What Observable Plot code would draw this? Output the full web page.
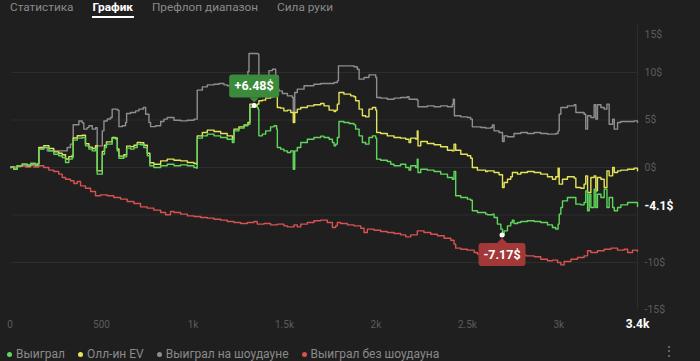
<!DOCTYPE html>
<html><head><meta charset="utf-8">
<script src="https://cdn.jsdelivr.net/npm/d3@7"></script>
<script src="https://cdn.jsdelivr.net/npm/@observablehq/plot@0.6"></script>
<style>
html,body{margin:0;padding:0;background:#1f1f1f;width:700px;height:361px;overflow:hidden;font-family:Roboto,"Noto Sans",sans-serif;}
#tabs{position:absolute;left:10px;top:0;height:22px;display:flex;gap:19px;}
.tab{position:relative;font-size:11.8px;line-height:14px;color:#8a8a8a;white-space:nowrap}
.tab.active{color:#fff;font-weight:700}
.tab.active:after{content:"";position:absolute;left:-1px;right:-1px;top:16px;height:1.5px;background:#fff}
#chart{position:absolute;left:0;top:22px}
#legend{position:absolute;left:7px;top:346px;display:flex;font-size:12px;line-height:16px;color:#8a8a8a;}
.li{display:flex;align-items:center;margin-right:13px;white-space:nowrap}
.dot{width:5px;height:5px;border-radius:50%;margin-right:4px}
#more{position:absolute;left:662px;top:343px;color:#777;font-size:14px;}
</style></head>
<body>
<div id="tabs"></div>
<div id="chart"></div>
<div id="legend"></div>
<div id="more">⋮</div>
<script>
const tabs = ["Статистика", "График", "Префлоп диапазон", "Сила руки"];
const activeTab = "График";
const seriesNames = ["Выиграл", "Олл-ин EV", "Выиграл на шоудауне", "Выиграл без шоудауна"];
const seriesColors = ["#5fd65c", "#e4e45a", "#8e8e8e", "#d85252"];

const xTickValues = [0, 500, 1000, 1500, 2000, 2500, 3000];
const xTickLabels = ["0", "500", "1k", "1.5k", "2k", "2.5k", "3k"];
const totalHands = 3441;
const totalLabel = "3.4k";
const yTickValues = [10, 5, 0, -10, -15];
const yTopTick = 15;
const gridValues = [10, 5, 0, -5, -10];
const peakLabel = "+6.48$";
const troughLabel = "-7.17$";
const lastLabel = "-4.1$";

// [hands, $]
const won = [[15,0],[17,0.07],[31,-0.18],[50,0.18],[77,0.35],[104,0.18],[123,0.42],[150,0.18],[163,0.35],[168,1.93],[195,2.1],[223,1.75],[250,1.4],[277,1.23],[296,1.05],[314,0.53],[332,0.88],[350,1.05],[356,2.88],[378,3.09],[405,3.16],[423,2.28],[442,1.93],[460,1.75],[478,2.04],[487,-0.7],[505,-0.7],[515,1.4],[527,2.1],[538,2.46],[560,2.46],[569,3.09],[587,3.0],[597,1.75],[606,0.98],[633,1.12],[648,2.04],[670,1.93],[688,2.1],[706,2.46],[724,2.39],[742,2.1],[761,1.23],[775,0.18],[797,0.0],[834,0.18],
[870,0.35],[907,0.18],[943,0.28],[980,0.18],[1016,0],[1030,-0.07],[1034,3.09],[1062,3.33],[1089,3.51],[1126,3.33],[1162,3.16],[1198,2.98],[1226,2.63],[1235,3.86],[1262,4.14],[1290,4.39],[1311,4.56],[1322,6.35],[1336,6.42],[1348,6.48],[1362,6.3],[1368,6.1],[1371,3.33],[1390,3.51],[1408,3.86],[1426,3.86],[1435,4.28],[1454,4.39],[1468,4.04],[1472,2.1],[1490,1.93],[1508,1.75],[1527,1.58],[1545,1.75],[1559,-0.18],[1567,1.75],[1581,2.1],[1600,2.63],[1636,2.98],[1672,3.16],[1709,3.3],
[1727,3.16],[1755,2.98],[1773,2.63],[1782,2.28],[1791,2.46],[1800,3.16],[1809,4.84],[1836,4.74],[1864,4.63],[1891,4.49],[1900,4.04],[1919,3.33],[1937,2.63],[1955,2.46],[1973,3.16],[1992,3.33],[2010,3.09],[2015,0.88],[2037,0.77],[2073,0.63],[2092,0.35],[2110,0.18],[2146,0.35],[2174,0],[2192,-0.28],[2201,0.18],[2228,0],[2237,0.88],[2241,-0.53],[2256,-0.18],[2292,-0.28],[2329,-0.42],[2365,-0.7],[2402,-1.05],[2429,-1.23],[2438,-0.42],[2447,-2.98],[2475,-3.16],[2511,-3.33],[2529,-3.44],[2538,-4.56],[2566,-4.74],[2611,-4.91],
[2621,-4.98],[2648,-4.91],[2657,-5.26],[2675,-5.96],[2694,-6.49],[2703,-7.17],[2712,-6.67],[2730,-6.14],[2748,-5.79],[2757,-5.54],[2766,-5.89],[2785,-5.79],[2803,-5.68],[2839,-5.61],[2876,-5.68],[2912,-5.79],[2949,-6.04],[2976,-6.32],[2994,-6.49],[3007,-5.96],[3013,-4.91],[3022,-4.21],[3031,-3.51],[3058,-3.16],[3095,-3.16],[3104,-3.86],[3131,-3.93],[3149,-3.68],[3158,-2.46],[3168,-4.56],[3177,-2.81],[3186,-4.21],[3204,-2.28],[3213,-4.21],[3222,-2.81],[3241,-3.16],[3259,-2.28],[3274,-4.21],[3286,-3.16],[3305,-4.21],[3314,-4.56],[3332,-4.21],[3350,-3.93],[3387,-3.68],[3423,-3.68],[3441,-4.1]];

const allInEV = [[15,0],[17,0.07],[31,-0.18],[50,0.18],[77,0.35],[104,0.18],[123,0.42],[150,0.25],[163,0.4],[168,2.1],[195,2.3],[223,2.0],[250,1.65],[277,1.5],[296,1.35],[314,0.9],[332,1.15],[350,1.3],[356,3.1],[378,3.35],[405,3.4],[423,2.5],[442,2.15],[460,2.0],[478,2.3],[487,-0.35],[505,-0.35],[515,1.7],[527,2.35],[538,2.7],[560,2.7],[569,3.16],[587,3.1],[597,1.95],[606,1.2],[633,1.35],[648,2.25],[670,2.2],[688,2.35],[706,2.65],[724,2.6],[742,2.35],[761,1.5],[775,0.5],[797,0.35],[834,0.7],
[870,0.88],[907,0.77],[943,0.7],[980,0.53],[1016,0.42],[1030,0.35],[1034,3.33],[1062,3.68],[1089,3.93],[1126,3.79],[1162,3.58],[1198,3.33],[1226,2.98],[1235,4.04],[1262,4.28],[1290,4.49],[1311,4.74],[1322,6.67],[1349,6.49],[1362,6.67],[1371,7.02],[1390,7.09],[1408,7.3],[1435,7.44],[1454,7.54],[1468,7.72],[1472,6.32],[1490,6.25],[1508,5.96],[1527,6.04],[1545,5.79],[1559,4.74],[1567,5.79],[1581,6.14],[1600,6.32],[1636,6.49],[1672,6.6],[1709,6.74],
[1727,6.49],[1755,6.04],[1782,5.89],[1791,6.04],[1800,6.67],[1809,7.89],[1836,7.72],[1873,7.54],[1891,7.44],[1900,7.02],[1919,6.14],[1937,5.44],[1955,5.33],[1973,6.14],[1992,6.32],[2010,6.04],[2015,3.68],[2037,3.58],[2073,3.33],[2110,3.16],[2146,3.09],[2174,2.98],[2192,2.63],[2201,3.09],[2228,3.0],[2237,3.86],[2241,2.28],[2256,2.74],[2292,2.53],[2329,2.39],[2365,2.18],[2402,1.82],[2429,1.75],[2438,2.46],[2447,1.82],[2475,1.4],[2511,1.23],[2529,0.98],[2538,0],[2566,-0.28],[2611,-0.42],
[2621,-0.35],[2657,-0.53],[2684,-0.77],[2703,-2.1],[2712,-1.58],[2730,-1.23],[2748,-0.98],[2757,-0.53],[2785,-0.7],[2803,-0.53],[2839,-0.42],[2876,-0.53],[2912,-0.7],[2949,-0.98],[2976,-1.23],[2994,-0.98],[3007,-0.07],[3013,-1.75],[3031,-1.23],[3058,-0.98],[3095,-1.12],[3104,-2.1],[3131,-2.18],[3149,-1.75],[3158,-0.88],[3168,-2.63],[3186,-1.05],[3204,-0.88],[3213,-2.46],[3222,-1.05],[3241,-1.23],[3259,-2.1],[3274,-0.35],[3286,-0.88],[3305,0],[3314,-0.53],[3332,-0.35],[3350,-0.28],[3387,-0.18],[3423,-0.07],[3441,-0.35]];

const showdown = [[15,0],[17,0.07],[50,0.18],[104,0.3],[150,0.35],[163,0.4],[168,1.95],[195,2.1],[214,1.75],[250,1.75],[296,1.75],[314,1.75],[323,2.1],[341,2.46],[356,4.5],[387,4.9],[405,4.7],[414,4.04],[432,4.2],[442,4.4],[460,4.04],[478,4.2],[487,2.28],[505,2.28],[515,3.86],[524,4.9],[542,5.1],[560,5.26],[569,6.14],[597,6.04],[606,4.3],[624,4.4],[642,4.74],[648,5.68],[670,5.79],[697,5.96],[715,6.14],[739,6.32],[752,5.61],[770,4.74],[779,4.3],[806,4.4],[834,4.84],
[852,5.09],[870,5.26],[907,4.98],[943,4.91],[980,4.98],[1016,5.09],[1030,5.09],[1034,8.14],[1062,8.49],[1089,8.7],[1126,8.77],[1153,8.84],[1180,8.7],[1198,8.6],[1226,8.5],[1235,9.6],[1311,10.1],[1317,12.0],[1366,11.93],[1371,9.3],[1426,10.2],[1445,10.35],[1459,10.35],[1463,8.25],[1481,8.07],[1499,7.79],[1527,7.54],[1554,7.37],[1559,5.79],[1567,7.89],[1581,8.25],[1618,8.6],[1672,8.77],[1709,8.84],
[1727,8.84],[1782,8.95],[1800,9.12],[1806,10.7],[1836,10.7],[1891,10.6],[1909,10.35],[1919,9.3],[1946,9.47],[1973,9.75],[2001,9.75],[2010,9.47],[2015,7.37],[2037,7.3],[2073,7.19],[2110,7.3],[2146,7.37],[2183,7.44],[2192,7.19],[2237,7.09],[2241,6.39],[2292,6.49],[2329,6.39],[2365,6.49],[2402,6.39],[2429,6.67],[2434,7.19],[2440,5.44],[2475,5.33],[2511,5.26],[2529,5.09],[2538,4.28],[2584,4.21],[2611,4.14],
[2639,4.21],[2648,4.49],[2657,3.86],[2684,3.68],[2703,2.74],[2712,3.33],[2730,3.23],[2766,3.58],[2803,3.68],[2839,3.58],[2876,3.68],[2912,3.58],[2949,3.51],[2994,3.58],[3007,3.86],[3013,5.61],[3022,6.32],[3058,6.49],[3095,6.6],[3104,5.79],[3131,5.79],[3149,5.61],[3158,4.04],[3168,5.44],[3186,5.26],[3204,6.6],[3213,5.09],[3222,6.6],[3241,6.32],[3259,6.14],[3274,6.67],[3286,4.56],[3305,5.09],[3314,4.04],[3332,4.74],[3350,4.84],[3387,4.84],[3423,4.91],[3441,4.74]];

const nonShowdown = [[15,0],[17,0.07],[68,0.2],[95,0.05],[123,0.2],[141,0.05],[168,0.18],[195,0],[223,-0.28],[250,-0.42],[277,-0.7],[296,-1.05],[314,-1.23],[341,-1.4],[360,-1.68],[378,-1.47],[396,-1.93],[423,-2.18],[451,-2.53],[478,-2.98],[505,-2.88],[542,-2.98],[578,-3.16],[615,-3.33],[651,-3.58],[688,-3.79],[724,-4.14],[761,-4.28],[797,-4.49],[834,-4.74],[861,-4.98],
[888,-4.63],[907,-4.74],[943,-4.91],[980,-5.09],[1016,-5.16],[1053,-5.26],[1089,-5.33],[1126,-5.44],[1162,-5.54],[1198,-5.68],[1235,-5.79],[1271,-5.89],[1308,-5.79],[1344,-5.68],[1362,-5.96],[1399,-5.89],[1435,-6.04],[1472,-5.96],[1508,-6.14],[1527,-6.25],[1563,-6.04],[1581,-6.25],[1600,-5.96],[1636,-5.79],[1672,-5.61],[1709,-5.54],
[1745,-5.79],[1773,-6.32],[1791,-6.14],[1800,-5.79],[1818,-5.89],[1855,-6.04],[1891,-6.14],[1928,-6.39],[1946,-6.84],[1964,-6.49],[2001,-6.6],[2037,-6.74],[2073,-6.84],[2110,-6.95],[2146,-7.09],[2174,-7.3],[2201,-7.09],[2237,-6.67],[2274,-6.84],[2311,-7.02],[2347,-7.19],[2384,-7.44],[2420,-7.65],[2438,-8.07],[2447,-8.49],[2475,-8.6],[2511,-8.7],[2548,-8.95],[2566,-9.12],
[2620,-9.15],[2700,-9.2],[2830,-9.3],[2876,-9.4],[2912,-9.65],[2949,-9.82],[2976,-9.75],[3004,-10.0],[3022,-10.25],[3040,-9.89],[3077,-9.65],[3113,-9.47],[3149,-9.3],[3168,-8.77],[3186,-8.95],[3222,-8.77],[3259,-8.6],[3296,-8.49],[3332,-8.7],[3368,-8.6],[3387,-8.95],[3414,-8.7],[3441,-8.84]];

// tabs
const tabsEl = d3.select("#tabs");
tabs.forEach(t => tabsEl.append("div").attr("class", "tab" + (t === activeTab ? " active" : "")).text(t));

// legend
const leg = d3.select("#legend");
seriesNames.forEach((n, i) => {
  const it = leg.append("div").attr("class", "li");
  it.append("div").attr("class", "dot").style("background", seriesColors[i]);
  it.append("span").text(n);
});

const peak = won.reduce((a, b) => b[1] > a[1] ? b : a);
const trough = won.reduce((a, b) => b[1] < a[1] ? b : a);
const last = won[won.length - 1];

const lineOpts = (c) => ({x: d => d[0], y: d => d[1], stroke: c, strokeWidth: 1.4, curve: "step-after"});

const chart = Plot.plot({
  width: 700, height: 318,
  marginLeft: 7.6, marginRight: 63, marginTop: 2.5, marginBottom: 30.5,
  style: {background: "transparent", fontFamily: "Roboto, 'Noto Sans', sans-serif", overflow: "visible"},
  x: {domain: [0, totalHands], axis: null},
  y: {domain: [-15, 15], axis: null},
  marks: [
    Plot.ruleY(gridValues, {stroke: "#2d2d2d", strokeWidth: 1, insetLeft: 4}),
    Plot.ruleX([totalHands], {stroke: "#2d2d2d", strokeWidth: 1}),
    Plot.line(showdown, lineOpts(seriesColors[2])),
    Plot.line(nonShowdown, lineOpts(seriesColors[3])),
    Plot.line(allInEV, lineOpts(seriesColors[1])),
    Plot.line(won, lineOpts(seriesColors[0])),
    Plot.text(xTickValues, {x: d => d, text: (d, i) => xTickLabels[i], frameAnchor: "bottom", dy: 17.5, dx: 2, fill: "#5c5c5c", fontSize: 10}),
    Plot.text([totalHands], {x: d => d, text: () => totalLabel, frameAnchor: "bottom", dy: 17.5, fill: "#ffffff", fontSize: 12, fontWeight: "bold"}),
    Plot.text(yTickValues, {y: d => d, text: d => d + "$", frameAnchor: "right", dx: 7, textAnchor: "start", fill: "#5c5c5c", fontSize: 10.5}),
    Plot.text([yTopTick], {y: d => d, text: d => d + "$", frameAnchor: "right", dx: 7, dy: 10, textAnchor: "start", fill: "#5c5c5c", fontSize: 10.5}),
    Plot.text([last], {y: d => d[1], text: () => lastLabel, frameAnchor: "right", dx: 7, textAnchor: "start", fill: "#ffffff", fontSize: 12, fontWeight: "bold"})
  ]
});
document.getElementById("chart").appendChild(chart);

// badges drawn through the plot's own scales
const sx = chart.scale("x"), sy = chart.scale("y");
const svg = d3.select(chart);
function badge(pt, label, fill, above, w) {
  const px = sx.apply(pt[0]), py = sy.apply(pt[1]);
  const h = 23, gap = 8, ptr = 5;
  const g = svg.append("g");
  let top, tipY, baseY;
  if (above) { top = py - gap - h; baseY = top + h; tipY = baseY + ptr; }
  else { top = py + gap; baseY = top; tipY = baseY - ptr; }
  g.append("rect").attr("x", px - w / 2).attr("y", top).attr("width", w).attr("height", h).attr("rx", 3).attr("fill", fill);
  g.append("path").attr("d", `M${px - 5},${baseY}L${px},${tipY}L${px + 5},${baseY}Z`).attr("fill", fill);
  g.append("text").attr("x", px).attr("y", top + h / 2).attr("dy", "0.36em").attr("text-anchor", "middle")
    .attr("fill", "#fff").attr("font-size", 12.5).attr("font-weight", "bold").text(label);
  g.append("circle").attr("cx", px).attr("cy", py).attr("r", 2.5).attr("fill", "#fff");
}
badge(peak, peakLabel, "#3c8b3c", true, 50);
badge(trough, troughLabel, "#a33838", false, 47);
</script>
</body></html>
